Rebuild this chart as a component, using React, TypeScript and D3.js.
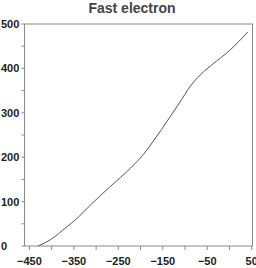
import React from "react";
import * as d3 from "d3";

const title = "Fast electron";
const xs = [-430, -403, -366, -343, -313, -268, -223, -193, -165, -141, -114, -88, -66, -36, 1, 41];
const ys = [0, 14, 43, 62, 92, 134, 175, 207, 245, 280, 320, 360, 385, 411, 441, 482];
const xTicks = [-450, -400, -350, -300, -250, -200, -150, -100, -50, 0, 50];
const xLabels = [-450, -350, -250, -150, -50, 50];
const yTicks = [0, 50, 100, 150, 200, 250, 300, 350, 400, 450, 500];
const yLabels = [0, 100, 200, 300, 400, 500];

export default function App() {
  const W = 256, H = 268;
  const left = 24.5, right = 252.5, top = 24, bottom = 246;
  const x = d3.scaleLinear().domain([-461, 50]).range([left, right - 0.8]);
  const y = d3.scaleLinear().domain([0, 500]).range([bottom, top]);
  const pts: [number, number][] = xs.map((v, i) => [v, ys[i]]);
  const line = d3.line<[number, number]>().x(d => x(d[0])).y(d => y(d[1])).curve(d3.curveMonotoneX);
  const fmt = (v: number) => (v < 0 ? "\u2212" + Math.abs(v) : String(v));
  const axisColor = "#8a8a8a";
  return (
    <svg width={W} height={H} style={{ position: "absolute", left: 0, top: 0 }} fontFamily="Liberation Sans, Arial, sans-serif">
      <text x={132} y={13} textAnchor="middle" fontSize={14} fontWeight="bold" fill="#444">{title}</text>
      <rect x={left} y={top} width={right - left} height={bottom - top} fill="none" stroke={axisColor} strokeWidth={1} />
      {xTicks.map(t => (
        <line key={"xt" + t} x1={x(t)} x2={x(t)} y1={bottom} y2={bottom + 4} stroke={axisColor} strokeWidth={1} />
      ))}
      {yTicks.map(t => (
        <line key={"yt" + t} x1={left - 3} x2={left} y1={y(t)} y2={y(t)} stroke={axisColor} strokeWidth={1} />
      ))}
      {xLabels.map(t => (
        <text key={"xl" + t} x={x(t)} y={264.5} textAnchor="middle" fontSize={11} fontWeight="bold" fill="#222">{fmt(t)}</text>
      ))}
      {yLabels.map(t => (
        <text key={"yl" + t} x={1} y={y(t) + 4} textAnchor="start" fontSize={11} fontWeight="bold" fill="#222">{fmt(t)}</text>
      ))}
      <path d={line(pts) || ""} fill="none" stroke="#555" strokeWidth={1} />
    </svg>
  );
}
